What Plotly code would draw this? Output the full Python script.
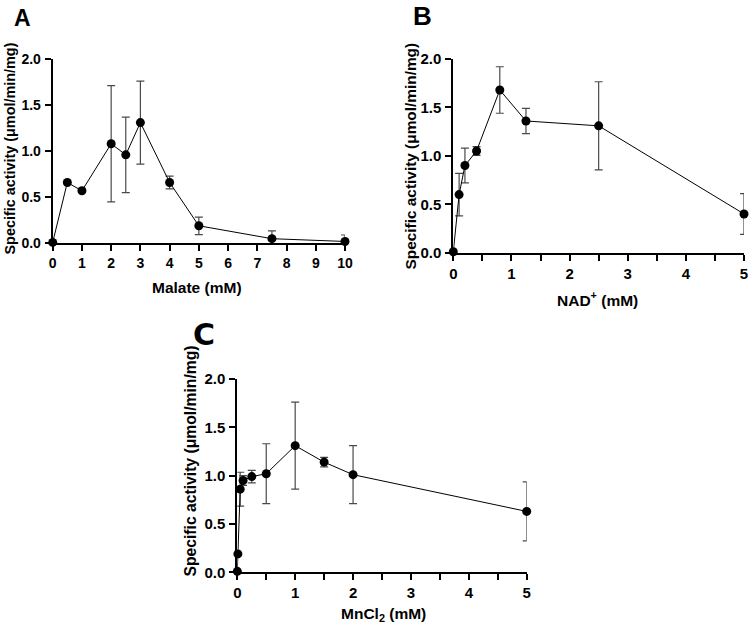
import plotly.graph_objects as go

# ---- data ----
A_x = [0, 0.5, 1, 2, 2.5, 3, 4, 5, 7.5, 10]
A_y = [0.01, 0.66, 0.57, 1.08, 0.96, 1.31, 0.66, 0.19, 0.05, 0.02]
A_err = [0, 0, 0, 0.63, 0.41, 0.45, 0.07, 0.095, 0.085, 0.07]

B_x = [0, 0.1, 0.2, 0.4, 0.8, 1.25, 2.5, 5]
B_y = [0.01, 0.60, 0.90, 1.05, 1.68, 1.36, 1.31, 0.40]
B_err = [0, 0.22, 0.18, 0.045, 0.24, 0.13, 0.455, 0.21]

C_x = [0, 0.01, 0.05, 0.1, 0.25, 0.5, 1, 1.5, 2, 5]
C_y = [0.01, 0.19, 0.86, 0.95, 0.99, 1.02, 1.31, 1.14, 1.01, 0.63]
C_err = [0, 0, 0.175, 0.05, 0.065, 0.31, 0.45, 0.05, 0.30, 0.305]

panel_labels = ["A", "B", "C"]
x_titles = ["Malate (mM)", "NAD<sup>+</sup> (mM)", "MnCl<sub>2</sub> (mM)"]
y_title = "Specific activity (μmol/min/mg)"

W, H = 750, 625
FONT = "Liberation Sans, Arial, sans-serif"

def px(v):
    return v / W

def py(v):
    return 1 - v / H

fig = go.Figure()

series = [(A_x, A_y, A_err, "x", "y"),
          (B_x, B_y, B_err, "x2", "y2"),
          (C_x, C_y, C_err, "x3", "y3")]
for xs, ys, es, xa, ya in series:
    fig.add_trace(go.Scatter(
        x=xs, y=ys, xaxis=xa, yaxis=ya, mode="lines+markers",
        line=dict(color="black", width=1),
        marker=dict(color="black", size=9),
        error_y=dict(type="data", array=es, visible=True, color="#4a4a4a",
                     thickness=1.2, width=4),
        cliponaxis=False, showlegend=False))

def xaxis(domain, anchor, rng, dtick, fs, minor=None):
    d = dict(domain=domain, anchor=anchor, range=rng, dtick=dtick, tick0=0,
             showgrid=False, zeroline=False, showline=True, linewidth=2,
             linecolor="black", ticks="outside", ticklen=6, tickwidth=2,
             tickcolor="black", automargin=False,
             tickfont=dict(family=FONT, size=fs, color="black", weight="bold"))
    if minor:
        d["minor"] = dict(dtick=minor, ticks="outside", ticklen=6,
                          tickwidth=2, tickcolor="black", showgrid=False)
    return d

def yaxis(domain, anchor, fs):
    return dict(domain=domain, anchor=anchor, range=[0, 2], dtick=0.5,
                tickformat=".1f", showgrid=False, zeroline=False,
                showline=True, linewidth=2, linecolor="black",
                ticks="outside", ticklen=6, tickwidth=2, tickcolor="black",
                ticklabelstandoff=1, automargin=False,
                tickfont=dict(family=FONT, size=fs, color="black", weight="bold"))

fig.update_layout(
    width=W, height=H,
    margin=dict(l=0, r=0, t=0, b=0, pad=0, autoexpand=False),
    paper_bgcolor="white", plot_bgcolor="white",
    xaxis=xaxis([px(52.7), px(345)], "y", [0, 10], 1, 14),
    yaxis=yaxis([py(243.3), py(59)], "x", 14),
    xaxis2=xaxis([px(453.3), px(744)], "y2", [0, 5], 1, 15, minor=0.5),
    yaxis2=yaxis([py(252.7), py(59)], "x2", 15),
    xaxis3=xaxis([px(237.3), px(526.7)], "y3", [0, 5], 1, 15, minor=0.5),
    yaxis3=yaxis([py(572.3), py(379)], "x3", 15),
)

ann = []
# panel letters
for lab, (x, y, s, fam) in zip(panel_labels, [(22, 18, 23, FONT), (423, 16.5, 26, FONT),
                                          (204, 334, 30, "DejaVu Sans")]):
    ann.append(dict(text="<b>" + lab + "</b>", x=px(x), y=py(y), xref="paper",
                    yref="paper", showarrow=False, xanchor="center",
                    yanchor="middle", font=dict(family=fam, size=s, color="black")))
# x titles
for t, (x, y) in zip(x_titles, [(197, 287), (597, 299), (383, 614)]):
    ann.append(dict(text="<b>" + t + "</b>", x=px(x), y=py(y), xref="paper",
                    yref="paper", showarrow=False, xanchor="center",
                    yanchor="middle", font=dict(family=FONT, size=15.5, color="black")))
# y titles
for (x, y, s) in [(9, 148.5, 14.4), (410, 156.5, 15.4), (190, 461.5, 15.7)]:
    ann.append(dict(text="<b>" + y_title + "</b>", x=px(x), y=py(y), xref="paper",
                    yref="paper", showarrow=False, xanchor="center",
                    yanchor="middle", textangle=-90,
                    font=dict(family=FONT, size=s, color="black")))
fig.update_layout(annotations=ann)

fig.write_html("out.html", config={"displayModeBar": False},
               post_script="document.body.style.margin='0';document.body.style.overflow='hidden';")
